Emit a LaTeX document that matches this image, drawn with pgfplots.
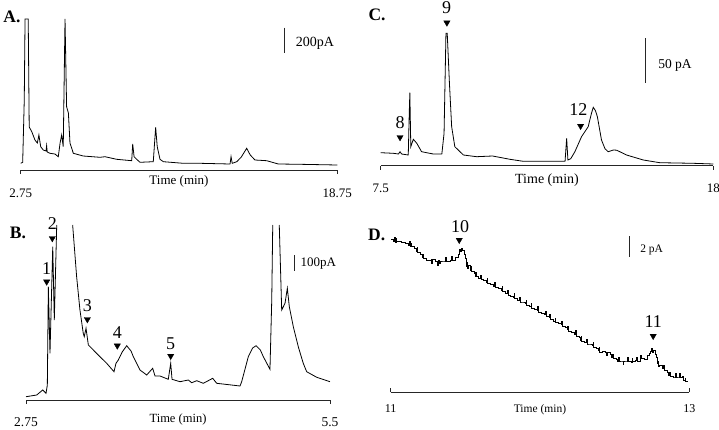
\documentclass[border=0pt]{standalone}
\usepackage{fontspec}
\setmainfont{Liberation Serif}
\usepackage{pgfplots}
\pgfplotsset{compat=1.18}
\newcommand{\fs}[1]{\fontsize{#1}{#1}\selectfont}

\pgfplotsset{
  trace/.style={
    scale only axis, clip=false, ymin=0,
    axis x line=bottom, axis y line=none,
    x axis line style={-, line width=0.6pt, black!85},
    tick align=outside, major tick length=4pt,
    xtick style={line width=0.6pt, black!85},
    xlabel={Time (min)},
    xlabel style={at={(axis description cs:0.5,0)}, anchor=center},
    xticklabel style={anchor=center},
  },
  sig/.style={black, line width=0.8pt},
  pk/.style={only marks, mark=triangle*, mark size=3.6pt,
    mark options={rotate=180, fill=black, draw=black}},
}

\begin{document}
\begin{tikzpicture}
\useasboundingbox (0,0) rectangle (719pt,429pt);

% ---------- A ----------
\begin{axis}[trace, at={(20.7pt,259pt)}, anchor=south west,
  width=316.6pt, height=151pt, ymax=151, xmin=2.75, xmax=18.75,
  xtick={2.75,18.75}, xticklabels={2.75,18.75},
  xticklabel style={yshift=-19pt, font=\fs{13}},
  xlabel style={yshift=-11pt, font=\fs{13}}]
\addplot[sig] coordinates {
(2.75,6.7)(2.85,7.7)(2.93,70)(2.97,151)(3.02,151)(3.13,151)(3.18,43)
(3.31,38.3)(3.47,30)(3.59,27)(3.67,35)(3.76,23.3)(3.89,20)(4.03,19)
(4.06,24.3)(4.09,18)(4.23,16.7)(4.48,16)(4.65,13.3)(4.74,27)(4.82,35)
(4.90,23.3)(4.99,151)(5.07,63.3)(5.16,57)(5.24,27)(5.41,16.7)(5.91,14)
(6.76,12.7)(7.01,13.3)(7.60,10.7)(8.36,9.3)(8.41,26)(8.48,13.3)
(8.61,10.7)(8.78,7.7)(9.45,8.3)(9.57,42.7)(9.65,23.3)(9.79,10.7)
(9.96,8.3)(10.97,6.7)(11.81,6.7)(13.33,6)(13.38,13.3)(13.44,6.7)
(13.67,8.3)(13.9,13)(14.17,21.7)(14.35,15)(14.59,10)(15.18,9.3)
(15.77,6)(16.87,5.7)(18.75,5)};
\end{axis}

% ---------- C ----------
\begin{axis}[trace, at={(380.7pt,263.3pt)}, anchor=south west,
  width=332.6pt, height=150pt, ymax=150, xmin=7.5, xmax=18,
  xtick={7.5,18}, xticklabels={7.5,18},
  xticklabel style={yshift=-19pt, font=\fs{13}},
  xlabel style={yshift=-14.3pt, font=\fs{14}}]
\addplot[sig] coordinates {
(7.5,13)(7.90,12.4)(8.06,11.7)(8.11,14)(8.16,11.7)(8.37,10.7)(8.40,50.7)
(8.42,73)(8.45,19)(8.53,26.4)(8.64,22.4)(8.79,14)(9.16,11.7)(9.43,11.7)
(9.50,32.4)(9.56,132.4)(9.60,132.4)(9.67,82.4)(9.74,39)(9.84,19)
(10.11,10.7)(10.53,9)(11.03,9.7)(11.58,6.4)(12.0,4.4)(13.32,4.4)
(13.37,27.4)(13.41,5.7)(13.50,7)(13.63,14)(13.84,29)(14.05,39)(14.15,52)
(14.21,58.4)(14.28,55)(14.34,49)(14.47,25.7)(14.58,17)(14.68,14)
(14.85,15.7)(14.95,15.5)(15.26,10.7)(15.79,5.7)(16.31,3)(17.37,2.4)(18,1.7)};
\addplot[pk] coordinates {(9.59,143)(8.11,28.4)(13.81,39.7)};
\end{axis}

% ---------- B ----------
\begin{axis}[trace, at={(26pt,29pt)}, anchor=south west,
  width=304pt, height=175pt, ymax=175, xmin=2.75, xmax=5.5,
  xtick={2.75,5.5}, xticklabels={2.75,5.5},
  xticklabel style={yshift=-18pt, font=\fs{13.5}},
  xlabel style={yshift=-19pt, font=\fs{12.5}}]
\addplot[sig] coordinates {
(2.75,3.3)(2.847,5)(2.901,10)(2.931,6.7)(2.943,15)(2.952,113.3)(2.967,46.7)
(2.992,153.3)(3.006,80)(3.028,175)};
\addplot[sig] coordinates {
(3.172,175)(3.208,123.3)(3.238,90)(3.268,66.7)(3.277,63.3)(3.293,71.7)
(3.314,55)(3.359,50)(3.419,43.3)(3.480,36.7)(3.546,28.3)(3.564,36.7)
(3.585,40)(3.62,48)(3.661,54.3)(3.70,49)(3.721,43.3)(3.781,30)(3.842,25)
(3.896,31.7)(3.917,24)(3.962,24)(4.037,20.7)(4.059,36.7)(4.071,20.7)
(4.143,18.3)(4.218,20)(4.249,17.3)(4.294,19.3)(4.354,16.7)(4.439,21.7)
(4.475,16.7)(4.686,14)(4.701,18.3)(4.761,43.3)(4.80,52)(4.831,54.3)
(4.87,50)(4.897,43.3)(4.957,30.7)(4.973,100)(4.982,175)};
\addplot[sig] coordinates {
(5.041,175)(5.063,90)(5.093,96.7)(5.114,111.7)(5.132,93.3)(5.168,73.3)
(5.213,53.3)(5.258,36.7)(5.289,28.3)(5.380,22.7)(5.5,18.3)};
\addplot[pk] coordinates {(2.937,118.3)(2.988,161.7)(3.305,80.7)(3.576,54.3)(4.059,44)};
\end{axis}

% ---------- D ----------
\begin{axis}[trace, at={(390.7pt,37pt)}, anchor=south west,
  width=298.6pt, height=167pt, ymax=167, xmin=11, xmax=13,
  tick align=inside,
  xtick={11,13}, xticklabels={11,13},
  xticklabel style={yshift=-17pt, font=\fs{12}},
  xlabel style={yshift=-18pt, font=\fs{11.5}}]
\addplot[sig, line width=0.65pt, const plot] coordinates {
(11.005,153)(11.02,151)(11.025,155)(11.03,150)(11.035,154)(11.04,151)
(11.07,150)(11.10,149)(11.12,147)(11.125,151)(11.13,146)(11.135,149)
(11.14,146)(11.16,144)(11.17,141)(11.175,145)(11.18,140)(11.20,138)
(11.21,135)(11.215,138)(11.22,134)(11.24,132)(11.27,133)(11.275,129)
(11.28,133)(11.30,131)(11.315,127)(11.32,132)(11.325,129)(11.33,131)
(11.36,131)(11.365,135)(11.37,131)(11.40,132)(11.405,136)(11.41,132)
(11.43,135)(11.45,138)(11.46,143)(11.465,141)(11.47,144)(11.48,142)
(11.49,138)(11.50,134)(11.505,126)(11.51,130)(11.515,124)(11.52,127)
(11.53,122)(11.535,126)(11.54,121)(11.56,119)(11.565,116)(11.57,120)
(11.575,116)(11.59,114)(11.60,117)(11.605,113)(11.62,112)(11.64,110)
(11.645,114)(11.65,109)(11.67,108)(11.69,106)(11.695,110)(11.70,105)
(11.72,104)(11.74,102)(11.745,106)(11.75,101)(11.77,99)(11.78,102)
(11.785,97)(11.80,96)(11.82,95)(11.825,99)(11.83,94)(11.85,92)(11.86,95)
(11.865,90)(11.88,90)(11.90,89)(11.905,92)(11.91,87)(11.93,86)(11.94,89)
(11.945,84)(11.96,83)(11.98,82)(11.985,86)(11.99,80)(12.01,79)(12.03,78)
(12.035,81)(12.04,76)(12.06,75)(12.065,78)(12.07,73)(12.09,71)(12.10,74)
(12.105,70)(12.12,69)(12.14,68)(12.145,71)(12.15,66)(12.17,65)(12.18,63)
(12.185,66)(12.19,61)(12.21,60)(12.23,58)(12.235,62)(12.24,56)(12.26,55)
(12.27,52)(12.275,56)(12.28,51)(12.30,50)(12.31,53)(12.315,48)(12.33,48)
(12.35,47)(12.355,50)(12.36,45)(12.38,44)(12.39,42)(12.395,45)(12.40,40)
(12.42,41)(12.44,40)(12.445,37)(12.45,40)(12.47,38)(12.48,35)(12.485,38)
(12.49,34)(12.51,33)(12.52,31)(12.525,35)(12.53,31)(12.55,31)(12.555,28)
(12.56,31)(12.58,31)(12.585,35)(12.59,31)(12.61,30)(12.615,34)(12.62,31)
(12.64,32)(12.645,35)(12.65,31)(12.67,33)(12.675,37)(12.68,34)(12.70,33)
(12.72,37)(12.73,39)(12.74,41)(12.745,44)(12.75,40)(12.76,42)(12.77,38)
(12.78,35)(12.785,29)(12.79,31)(12.795,26)(12.80,27)(12.82,24)(12.825,27)
(12.83,22)(12.85,20)(12.86,17)(12.865,20)(12.87,16)(12.89,15)(12.90,15)
(12.905,19)(12.91,15)(12.93,15)(12.935,19)(12.94,15)(12.955,16)(12.96,12)
(12.97,14)(12.975,11)(12.99,10)};
\addplot[pk] coordinates {(11.459,152)(12.758,56)};
\end{axis}

% ---------- panel letters, scale bars, peak numbers ----------
\node[font=\fs{17.5}\bfseries] at (12pt,412pt) {A.};
\node[font=\fs{17.5}\bfseries] at (377pt,414pt) {C.};
\node[font=\fs{17.5}\bfseries] at (18pt,196pt) {B.};
\node[font=\fs{17.5}\bfseries] at (376.7pt,194pt) {D.};

\draw[line width=0.7pt, black!85] (284pt,401.3pt) -- (284pt,375.7pt);
\node[font=\fs{14}] at (315pt,386pt) {200pA};
\draw[line width=0.7pt, black!85] (645.7pt,390.7pt) -- (645.7pt,346.3pt);
\node[font=\fs{13.5}] at (675pt,364pt) {50 pA};
\draw[line width=0.7pt, black!85] (294pt,174pt) -- (294pt,158pt);
\node[font=\fs{13}] at (318.3pt,165.7pt) {100pA};
\draw[line width=0.7pt, black!85] (629.3pt,193pt) -- (629.3pt,171.7pt);
\node[font=\fs{11.5}] at (651.7pt,179pt) {2 pA};

\begin{scope}[font=\fs{18}]
\node at (446.7pt,421.5pt) {9};
\node at (400pt,306pt) {8};
\node at (578.3pt,319pt) {12};
\node at (46.7pt,160.7pt) {1};
\node at (52.3pt,205.7pt) {2};
\node at (87.3pt,123pt) {3};
\node at (117.3pt,96.3pt) {4};
\node at (170.7pt,85.7pt) {5};
\node at (460pt,202.3pt) {10};
\node at (653.3pt,107.3pt) {11};
\end{scope}
\end{tikzpicture}
\end{document}
